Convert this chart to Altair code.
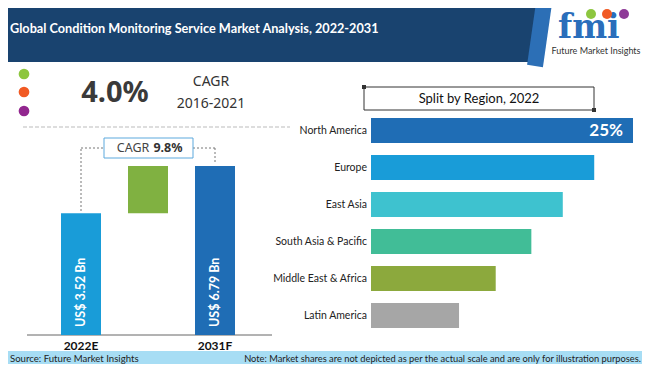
import altair as alt
import pandas as pd

# ---------------- data ----------------
regions = ["North America", "Europe", "East Asia", "South Asia & Pacific",
           "Middle East & Africa", "Latin America"]
region_share = [25.0, 21.3, 18.3, 15.3, 11.9, 8.4]
region_colors = ["#1F6DB5", "#199CD8", "#3EC2CF", "#41BD97", "#8CA93D", "#A6A6A6"]

stages = ["2022E", "Growth", "2031F"]
stage_start = [0.0, 3.52, 0.0]
stage_end = [3.52, 6.79, 6.79]
stage_colors = ["#199CD8", "#80B141", "#1F6DB5"]

cagr_hist = "4.0%"
cagr_hist_period = "2016-2021"
cagr_fcst = "9.8%"

title_text = "Global Condition Monitoring Service Market Analysis, 2022-2031"
source_text = "Source: Future Market Insights"
note_text = ("Note: Market shares are not depicted as per the actual scale "
             "and are only for illustration purposes.")

# ---------------- layout helpers ----------------
OFF = 8
W, H = 634, 356


def X(v):
    return v - OFF


def Y(v):
    return v - OFF


one = pd.DataFrame({"k": [0]})


def rect(x1, y1, x2, y2, fill, stroke=None, sw=1):
    kw = dict(fill=fill)
    if stroke:
        kw.update(stroke=stroke, strokeWidth=sw)
    return alt.Chart(one).mark_rect(**kw).encode(
        x=alt.value(X(x1)), x2=alt.value(X(x2)),
        y=alt.value(Y(y1)), y2=alt.value(Y(y2)))


def rule(x1, y1, x2, y2, color, sw=1, dash=None):
    kw = dict(color=color, strokeWidth=sw)
    if dash:
        kw["strokeDash"] = dash
    return alt.Chart(one).mark_rule(**kw).encode(
        x=alt.value(X(x1)), x2=alt.value(X(x2)),
        y=alt.value(Y(y1)), y2=alt.value(Y(y2)))


def text(x, y, s, size=12, color="#222222", font="Lato", weight="normal",
         align="left", baseline="middle"):
    return alt.Chart(one).mark_text(
        text=s, fontSize=size, color=color, font=font, fontWeight=weight,
        align=align, baseline=baseline).encode(
        x=alt.value(X(x)), y=alt.value(Y(y)))


def dot(x, y, color, size=100):
    return alt.Chart(one).mark_point(filled=True, color=color, size=size,
                                     opacity=1).encode(
        x=alt.value(X(x)), y=alt.value(Y(y)))


decor = [
    # header band
    rect(0, 0, 537, 62, "#19436F"),
    rule(545, -4, 535, 66, "#2C6FB6", sw=16),
    # footer band
    rect(0, 351, 650, 372, "#A7DDF4"),
    text(10, 358.5, source_text, size=9.6, color="#222222"),
    text(641, 358.5, note_text, size=9.3, color="#222222", align="right"),
    # title
    text(10, 29, title_text, size=12.7, color="#FFFFFF", weight="bold"),
    # logo
    text(558, 38, "fmi", size=33, color="#2A6EBB", font="DejaVu Serif",
         weight="bold", baseline="alphabetic"),
    dot(591, 14, "#8DC63F", 100),
    dot(607, 14, "#F15A24", 100),
    dot(624, 14, "#8E3A97", 100),
    text(596, 51, "Future Market Insights", size=9, color="#333333",
         align="center"),
    # legend-like dots
    dot(24, 74, "#8DC63F", 115),
    dot(24, 92, "#F15A24", 115),
    dot(24, 111, "#92278F", 115),
    # historical CAGR
    text(115, 93, cagr_hist, size=29, color="#3A3A3A", font="Noto Sans",
         weight="bold", align="center"),
    text(211, 82, "CAGR", size=14, color="#333333", font="Noto Sans",
         align="center"),
    text(211, 104, cagr_hist_period, size=14, color="#333333",
         font="Noto Sans", align="center"),
    rule(23, 127, 290, 127, "#BBBBBB", dash=[4, 2]),
    # CAGR 9.8% callout
    rule(81, 149, 81, 212, "#777777", dash=[2, 2]),
    rule(81, 148, 104, 148, "#777777", dash=[2, 2]),
    rule(193, 148, 215, 148, "#777777", dash=[2, 2]),
    rule(215, 148, 215, 164, "#777777", dash=[2, 2]),
    rect(104, 138, 193, 158, "#FFFFFF", stroke="#5DA9DD", sw=1),
    text(133, 148, "CAGR", size=12.5, color="#444444", font="Noto Sans",
         align="center"),
    text(168, 148, cagr_fcst, size=12.5, color="#333333", font="Noto Sans",
         weight="bold", align="center"),
    # baseline of the waterfall
    rule(27, 335, 272, 335, "#666666"),
    # split-by-region heading box
    rect(364, 87, 594, 110, "#FFFFFF", stroke="#333333", sw=1),
    rect(362, 85, 366, 89, "#333333"),
    rect(592, 108, 596, 112, "#333333"),
    text(479, 98.5, "Split by Region, 2022", size=13, color="#111111",
         align="center"),
]

# ---------------- waterfall ----------------
wf = pd.DataFrame({"stage": stages, "start": stage_start, "end": stage_end})

xs = alt.Scale(domain=stages, range=[X(47.5), X(248.5)],
               paddingInner=0.403, paddingOuter=0.2015)
ys = alt.Scale(type="sqrt", domain=[0, max(stage_end)], range=[Y(335), Y(166)],
               nice=False, zero=True)

wf_bars = alt.Chart(wf).mark_bar().encode(
    x=alt.X("stage:N", scale=xs, axis=None, sort=stages),
    y=alt.Y("end:Q", scale=ys, axis=None),
    y2="start:Q",
    color=alt.Color("stage:N", scale=alt.Scale(domain=stages,
                                               range=stage_colors),
                    legend=None),
)

wf_years = alt.Chart(wf).transform_filter(
    "datum.stage != 'Growth'").mark_text(
    font="Lato", fontWeight="bold", fontSize=12, color="#111111",
    baseline="middle").encode(
    x=alt.X("stage:N", scale=xs, axis=None, sort=stages),
    y=alt.value(Y(346)),
    text="stage:N",
)

wf_vals = alt.Chart(wf).transform_filter(
    "datum.stage != 'Growth'").transform_calculate(
    lbl="'US$ ' + format(datum.end, '.2f') + ' Bn'").mark_text(
    font="Lato", fontWeight="bold", fontSize=12.5, color="#FFFFFF",
    angle=270, align="left", baseline="middle").encode(
    x=alt.X("stage:N", scale=xs, axis=None, sort=stages),
    y=alt.value(Y(327)),
    text="lbl:N",
)

wf_layer = alt.layer(wf_bars, wf_years, wf_vals)

# ---------------- regional split ----------------
rg = pd.DataFrame({"region": regions, "share": region_share})

rx = alt.Scale(domain=[0, 25], range=[X(371), X(633)], nice=False)
ry = alt.Scale(domain=regions, range=[Y(112), Y(334)],
               paddingInner=0.324, paddingOuter=0.162)

rg_bars = alt.Chart(rg).mark_bar().encode(
    x=alt.X("share:Q", scale=rx, axis=None),
    y=alt.Y("region:N", scale=ry, axis=None, sort=regions),
    color=alt.Color("region:N", scale=alt.Scale(domain=regions,
                                                range=region_colors),
                    legend=None),
)

rg_labels = alt.Chart(rg).mark_text(
    font="Lato", fontSize=10.5, color="#222222", align="right",
    baseline="middle").encode(
    x=alt.value(X(367)),
    y=alt.Y("region:N", scale=ry, axis=None, sort=regions),
    text="region:N",
)

rg_top = alt.Chart(rg).transform_filter(
    "datum.region == 'North America'").transform_calculate(
    lbl="format(datum.share, 'd') + '%'").mark_text(
    font="Lato", fontWeight="bold", fontSize=17, color="#FFFFFF",
    align="right", baseline="middle", dx=-10).encode(
    x=alt.X("share:Q", scale=rx, axis=None),
    y=alt.Y("region:N", scale=ry, axis=None, sort=regions),
    text="lbl:N",
)

rg_layer = alt.layer(rg_bars, rg_labels, rg_top)

chart = alt.layer(*decor, wf_layer, rg_layer).resolve_scale(
    x="independent", y="independent", color="independent"
).properties(
    width=W, height=H, padding=0, autosize=alt.AutoSizeParams(type="none"),
    background="#FFFFFF",
).configure_view(stroke=None)

chart.save("out.html", embed_options={"renderer": "svg", "actions": False})
